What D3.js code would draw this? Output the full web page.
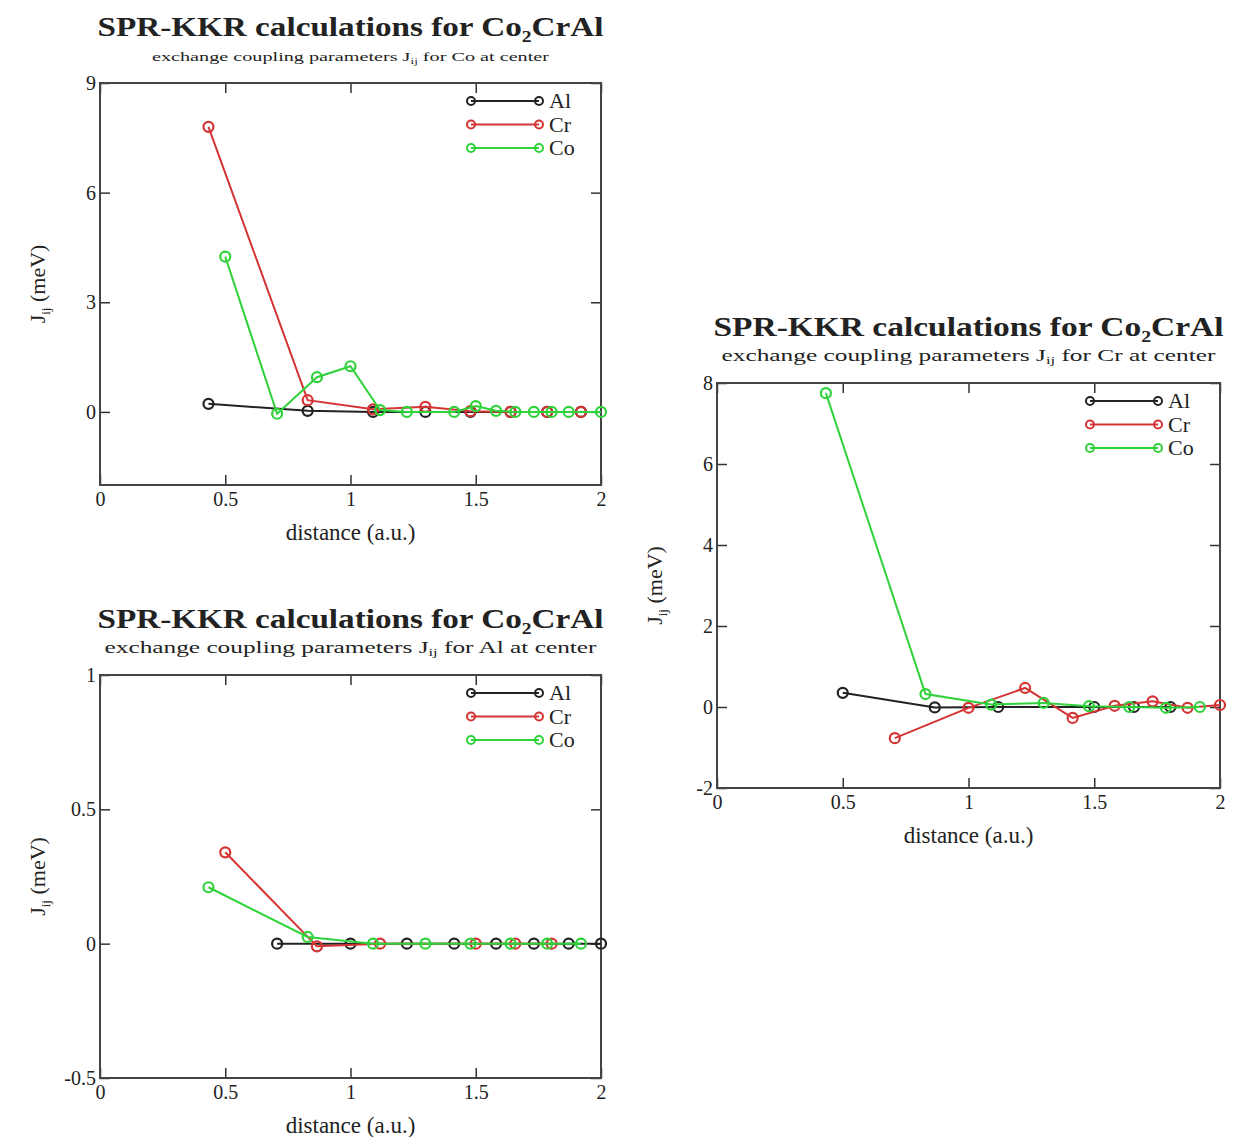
<!DOCTYPE html>
<html>
<head>
<meta charset="utf-8">
<script src="https://cdn.jsdelivr.net/npm/d3@7"></script>
<style>
  body { margin: 0; background: #fff; }
  text { font-family: "Liberation Serif", "DejaVu Serif", serif; fill: #222; }
</style>
</head>
<body>
<div id="chart-area"></div>
<script>
// neighbour shells (distance in units of a)
var shellsOdd = [0.433, 0.829, 1.090, 1.299, 1.479, 1.639, 1.785, 1.920];
var shellsCoCo = [0.5, 0.707, 0.866, 1.0, 1.118, 1.225, 1.414, 1.5, 1.581, 1.658, 1.732, 1.803, 1.871, 2.0];
var shellsFcc = [0.707, 1.0, 1.225, 1.414, 1.581, 1.732, 1.871, 2.0];
var shellsHalf = [0.5, 0.866, 1.118, 1.5, 1.658, 1.803];

// Co at center
var coAl = [0.22, 0.03, 0.0, 0.0, 0.0, 0.0, 0.0, 0.0];
var coCr = [7.8, 0.32, 0.07, 0.14, 0.02, 0.0, 0.0, 0.0];
var coCo = [4.25, -0.05, 0.95, 1.25, 0.05, 0.0, 0.0, 0.16, 0.03, 0.0, 0.0, 0.0, 0.0, 0.0];
// Cr at center
var crAl = [0.35, -0.01, 0.0, 0.0, 0.0, 0.0];
var crCr = [-0.77, -0.02, 0.47, -0.27, 0.03, 0.14, -0.02, 0.05];
var crCo = [7.75, 0.32, 0.06, 0.1, 0.02, 0.0, -0.02, 0.0];
// Al at center
var alAl = [0, 0, 0, 0, 0, 0, 0, 0];
var alCr = [0.34, -0.01, 0, 0, 0, 0];
var alCo = [0.21, 0.025, 0, 0, 0, 0, 0, 0];

var xTicks = [0, 0.5, 1, 1.5, 2];
var names = ["Al", "Cr", "Co"];
var colors = ["#222", "#d43434", "#2fd23a"];

var panels = [
  { left: 100, right: 601, top: 83, bottom: 485, y: [-2, 9], yTicks: [0, 3, 6, 9],
    sub: "for Co at center", subSize: 12, subLen: 397, titleLen: 506,
    series: [[shellsOdd, coAl], [shellsOdd, coCr], [shellsCoCo, coCo]] },
  { left: 717, right: 1220, top: 383, bottom: 788, y: [-2, 8], yTicks: [-2, 0, 2, 4, 6, 8],
    sub: "for Cr at center", subSize: 16, subLen: 494, titleLen: 510,
    series: [[shellsHalf, crAl], [shellsFcc, crCr], [shellsOdd, crCo]] },
  { left: 100, right: 601, top: 675, bottom: 1078, y: [-0.5, 1], yTicks: [-0.5, 0, 0.5, 1],
    sub: "for Al at center", subSize: 16, subLen: 492, titleLen: 506,
    series: [[shellsFcc, alAl], [shellsHalf, alCr], [shellsOdd, alCo]] }
];

var svg = d3.select("#chart-area")
    .append("svg")
    .attr("width", 1248)
    .attr("height", 1137);

panels.forEach(function(p) {
    var x = d3.scaleLinear().domain([0, 2]).range([p.left, p.right]);
    var y = d3.scaleLinear().domain(p.y).range([p.bottom, p.top]);
    var g = svg.append("g");
    var cx = (p.left + p.right) / 2;

    // titles
    var t = g.append("text").attr("x", cx).attr("y", p.top - 47)
        .attr("text-anchor", "middle").style("font-size", "27px").style("font-weight", "bold")
        .attr("textLength", p.titleLen).attr("lengthAdjust", "spacingAndGlyphs");
    t.append("tspan").text("SPR-KKR calculations for Co");
    t.append("tspan").text("2").style("font-size", "16px").attr("dy", 6);
    t.append("tspan").text("CrAl").attr("dy", -6);

    var s = g.append("text").attr("x", cx).attr("y", p.top - 22)
        .attr("text-anchor", "middle").style("font-size", p.subSize + "px")
        .attr("textLength", p.subLen).attr("lengthAdjust", "spacingAndGlyphs");
    s.append("tspan").text("exchange coupling parameters J");
    s.append("tspan").text("ij").style("font-size", (p.subSize * 0.65) + "px").attr("dy", 3);
    s.append("tspan").text(" " + p.sub).attr("dy", -3);

    // axes, ticks inward
    var fmt = function(d) { return String(d); };
    g.append("g").attr("transform", "translate(0," + p.bottom + ")")
        .call(d3.axisBottom(x).tickValues(xTicks).tickSize(-10).tickPadding(7).tickFormat(fmt));
    g.append("g").attr("transform", "translate(0," + p.top + ")")
        .call(d3.axisTop(x).tickValues(xTicks).tickSize(-10).tickFormat(""));
    g.append("g").attr("transform", "translate(" + p.left + ",0)")
        .call(d3.axisLeft(y).tickValues(p.yTicks).tickSize(-10).tickPadding(4).tickFormat(fmt));
    g.append("g").attr("transform", "translate(" + p.right + ",0)")
        .call(d3.axisRight(y).tickValues(p.yTicks).tickSize(-10).tickFormat(""));
    g.selectAll(".domain").remove();
    g.selectAll(".tick line").attr("stroke", "#333").attr("stroke-width", 1.5);
    g.selectAll(".tick text").style("font-size", "20px").style("font-family", "Liberation Serif").attr("fill", "#222");

    g.append("rect").attr("x", p.left).attr("y", p.top)
        .attr("width", p.right - p.left).attr("height", p.bottom - p.top)
        .attr("fill", "none").attr("stroke", "#444").attr("stroke-width", 2);

    // axis labels
    g.append("text").attr("x", cx).attr("y", p.bottom + 55)
        .attr("text-anchor", "middle").style("font-size", "23px").text("distance (a.u.)");
    var yl = g.append("text")
        .attr("transform", "translate(" + (p.left - 55) + "," + ((p.top + p.bottom) / 2) + ") rotate(-90)")
        .attr("text-anchor", "middle").style("font-size", "22px");
    yl.append("tspan").text("J");
    yl.append("tspan").text("ij").style("font-size", "13px").attr("dy", 5);
    yl.append("tspan").text(" (meV)").attr("dy", -5);

    // data
    var line = d3.line().x(function(d) { return x(d[0]); }).y(function(d) { return y(d[1]); });
    p.series.forEach(function(sr, i) {
        var pts = sr[0].map(function(d, j) { return [d, sr[1][j]]; });
        g.append("path").datum(pts).attr("d", line)
            .attr("fill", "none").attr("stroke", colors[i]).attr("stroke-width", 2);
        g.selectAll(".pt" + i).data(pts).enter()
            .append("circle")
            .attr("cx", function(d) { return x(d[0]); })
            .attr("cy", function(d) { return y(d[1]); })
            .attr("r", 5)
            .attr("fill", "none").attr("stroke", colors[i]).attr("stroke-width", 2.2);
    });

    // legend
    var lx = p.right - 130, ly = p.top + 18;
    names.forEach(function(n, i) {
        var yy = ly + i * 23.5;
        g.append("line").attr("x1", lx).attr("x2", lx + 68).attr("y1", yy).attr("y2", yy)
            .attr("stroke", colors[i]).attr("stroke-width", 2);
        [lx, lx + 68].forEach(function(c) {
            g.append("circle").attr("cx", c).attr("cy", yy).attr("r", 4)
                .attr("fill", "none").attr("stroke", colors[i]).attr("stroke-width", 2);
        });
        g.append("text").attr("x", lx + 78).attr("y", yy + 7).style("font-size", "22px").text(n);
    });
});
</script>
</body>
</html>
